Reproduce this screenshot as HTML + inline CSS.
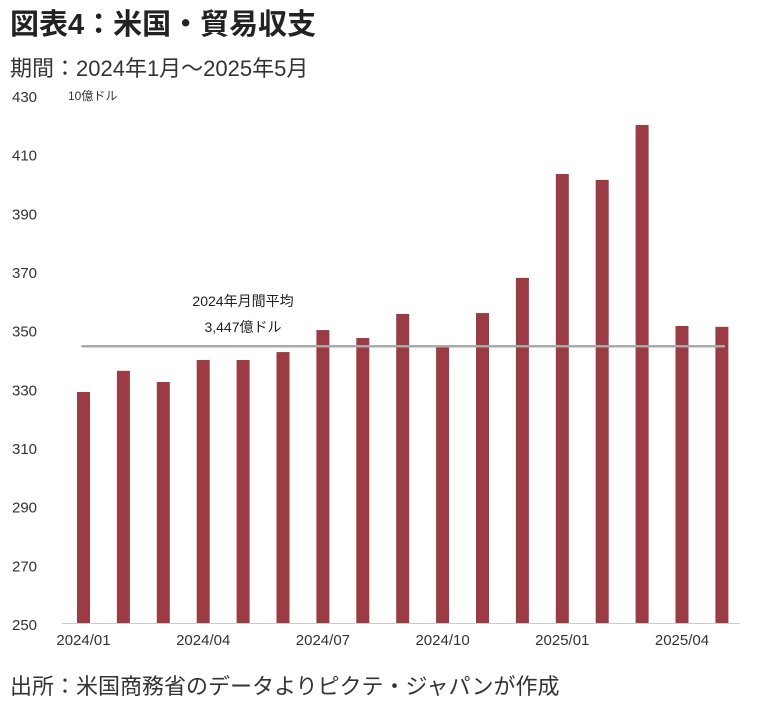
<!DOCTYPE html>
<html><head><meta charset="utf-8"><style>
body{margin:0;background:#fff;width:757px;height:708px;overflow:hidden;font-family:"Liberation Sans","Noto Sans CJK JP",sans-serif;}
svg text{font-family:"Liberation Sans","Noto Sans CJK JP",sans-serif;}
</style></head><body>
<svg width="757" height="708">
<text x="10" y="34" font-size="29" font-weight="bold" fill="#222">図表4：米国・貿易収支</text>
<text x="10" y="76" font-size="22" fill="#333">期間：2024年1月～2025年5月</text>
<text x="68" y="100" font-size="12" fill="#333">10億ドル</text>
<g id="yticks"></g>
<g id="bars"></g>
<line x1="62" y1="623.5" x2="740" y2="623.5" stroke="#ccc" stroke-width="1"/>
<g id="xticks"></g>
<g id="avg"></g>
<text x="10" y="694" font-size="22" fill="#333">出所：米国商務省のデータよりピクテ・ジャパンが作成</text>
</svg>
<script>
const months=["2024/01","2024/02","2024/03","2024/04","2024/05","2024/06","2024/07","2024/08","2024/09","2024/10","2024/11","2024/12","2025/01","2025/02","2025/03","2025/04","2025/05"];
const values=[329.1,336.3,332.5,340.0,340.0,342.7,350.2,347.5,355.7,344.4,356.0,368.0,403.4,401.4,420.1,351.6,351.3];
const yTicks=[250,270,290,310,330,350,370,390,410,430];
const xLabelIdx=[0,3,6,9,12,15];
const avgValue=344.7;
const avgLabel=["2024年月間平均","3,447億ドル"];
const NS="http://www.w3.org/2000/svg";
const y=v=>624-(v-250)*(528/180);
const x=i=>83.5+i*39.9;
function mk(t,a,p){const e=document.createElementNS(NS,t);for(const k in a)e.setAttribute(k,a[k]);p.appendChild(e);return e;}
const yt=document.getElementById('yticks');
yTicks.forEach(v=>{const t=mk('text',{x:12,y:y(v)+6,'font-size':15,fill:'#333'},yt);t.textContent=v;

});
const bg=document.getElementById('bars');
values.forEach((v,i)=>{const r=mk('rect',{x:x(i)-6.5,y:y(v),width:13,height:624-y(v),fill:'#9b3b43'},bg);

});
const xt=document.getElementById('xticks');
xLabelIdx.forEach(i=>{const t=mk('text',{x:x(i),y:645,'font-size':15,fill:'#333','text-anchor':'middle'},xt);t.textContent=months[i];

});
const ag=document.getElementById('avg');
const l=mk('line',{x1:x(0)-2,x2:x(16)+3,y1:y(avgValue),y2:y(avgValue),stroke:'#aaa','stroke-width':2.5},ag);


avgLabel.forEach((s,k)=>{const t=mk('text',{x:243,y:306+k*26,'font-size':14,fill:'#222','text-anchor':'middle'},ag);t.textContent=s;

});
</script>
</body></html>
